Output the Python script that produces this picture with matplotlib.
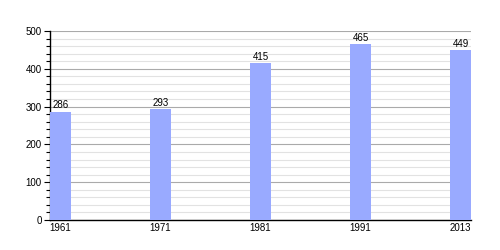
import matplotlib
matplotlib.use("Agg")
import matplotlib.pyplot as plt
from matplotlib.ticker import MultipleLocator

years = ["1961", "1971", "1981", "1991", "2013"]
population = [286, 293, 415, 465, 449]

plt.rcParams['font.family'] = ['Liberation Sans', 'DejaVu Sans']

fig = plt.figure(figsize=(5, 2.5), dpi=100)
ax = fig.add_axes([0.1, 0.12, 0.842, 0.756])

bw = 0.21
xs = list(range(len(years)))
ax.bar(xs, population, width=bw, align='edge', color='#99aaff', zorder=3)
for x, v in zip(xs, population):
    ax.text(x + bw / 2, v + 4, str(v), ha='center', va='bottom', fontsize=7, zorder=4)

ax.set_xlim(0, len(years) - 1 + bw)
ax.set_ylim(0, 500)
ax.set_xticks([x + bw / 2 for x in xs])
ax.set_xticklabels(years, fontsize=7)
ax.tick_params(axis='x', length=0, pad=2)

ax.yaxis.set_major_locator(MultipleLocator(100))
ax.yaxis.set_minor_locator(MultipleLocator(20))
ax.tick_params(axis='y', which='major', length=4, width=0.8, labelsize=7, pad=2)
ax.tick_params(axis='y', which='minor', length=3, width=0.8)

ax.grid(axis='y', which='major', color='#aaaaaa', linewidth=0.8, zorder=0)
ax.grid(axis='y', which='minor', color='#e2e2e2', linewidth=0.8, zorder=0)
ax.set_axisbelow(True)

for s in ['top', 'right']:
    ax.spines[s].set_visible(False)
ax.spines['left'].set_linewidth(1)
ax.spines['bottom'].set_linewidth(1)

fig.savefig('out.png', dpi=100)
